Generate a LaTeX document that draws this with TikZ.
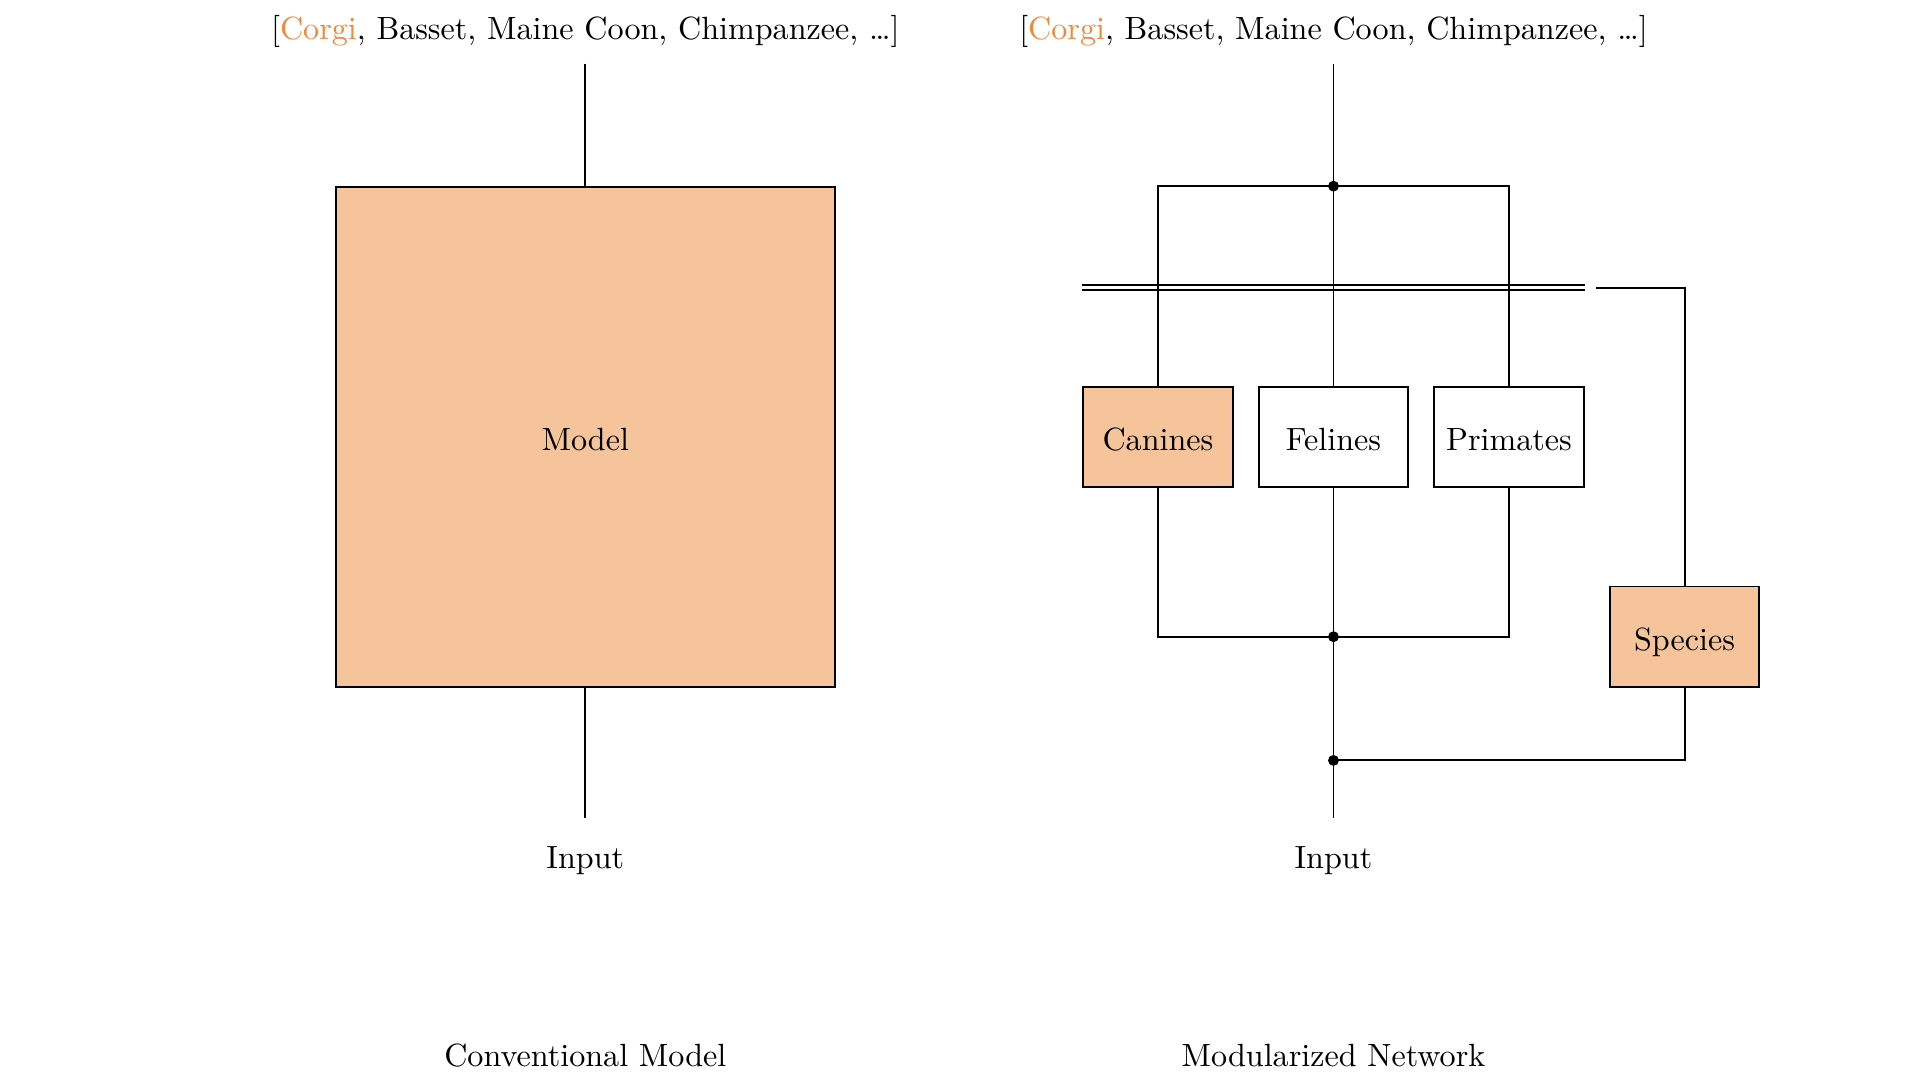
\documentclass[tikz,border=0pt]{standalone}
\usepackage{tikz}
\usetikzlibrary{calc}
\definecolor{peach}{RGB}{245,196,155}
\definecolor{corgi}{RGB}{241,137,58}
\tikzset{
  wire/.style={line width=0.6pt},
  module/.style={draw, fill=white, line width=0.6pt, inner sep=0pt, text height=8.3pt, text depth=0pt, minimum width=1.634cm, minimum height=1.098cm},
  active/.style={module, fill=peach},
  junc/.style={circle, fill, inner sep=0pt, minimum size=3.4pt},
}
\newcommand{\classlist}{[\textcolor{corgi}{Corgi}, Basset, Maine Coon, Chimpanzee, …]}

\begin{document}
\begin{tikzpicture}
\useasboundingbox (0,0) rectangle (21.0,-11.8125);
\def\DX{1.92};\def\ROW{-4.781};
% conventional model
\begin{scope}[xshift=6.402cm]
\node (lout) at (0,-0.345) {\classlist};
\coordinate (ltop) at (0,-0.696);
\node[active, minimum width=5.464cm, minimum height=5.464cm] (model) at (0,\ROW) {Model};
\coordinate (lbot) at (0,-8.947);
\node (lin) at (0,-9.41) {Input};
\node (lcap) at (0,-11.545) {Conventional Model};
\draw[wire] (ltop)--(model.north);
\draw[wire] (model.south)--(lbot);
\end{scope}
% modularized network
\begin{scope}[xshift=14.585cm]
\node (rout) at (0,-0.345) {\classlist};
\coordinate (rtop) at (0,-0.696);
\coordinate (split) at (0,-2.036);
\coordinate (busy) at (0,-3.147);
\node[active] (can) at (-\DX,\ROW) {Canines};
\node[module] (fel) at (0,\ROW) {Felines};
\node[module] (pri) at (\DX,\ROW) {Primates};
\node[active] (spe) at (2*\DX,-6.964) {Species};
\coordinate (merge) at (0,-6.964);
\coordinate (mix) at (0,-8.317);
\coordinate (rbot) at (0,-8.947);
\node (rin) at (0,-9.41) {Input};
\node (rcap) at (0,-11.545) {Modularized Network};
\coordinate (busl) at (can.west |- busy);
\coordinate (busr) at (pri.east |- busy);
\coordinate (gate) at ($(busr)+(0.121,0)$);
\draw[wire, double, double distance=1pt] (busl)--(busr);
\draw[wire] (gate)-|(spe.north);
\draw[wire] (rtop)--(split)--(fel.north);
\draw[wire] (can.north)|-(split)-|(pri.north);
\draw[wire] (can.south)|-(merge)-|(pri.south);
\draw[wire] (fel.south)--(merge)--(rbot);
\draw[wire] (mix)-|(spe.south);
\node[junc] (dsplit) at (split) {};
\node[junc] (dmerge) at (merge) {};
\node[junc] (dmix) at (mix) {};
\end{scope}
\end{tikzpicture}
\end{document}
